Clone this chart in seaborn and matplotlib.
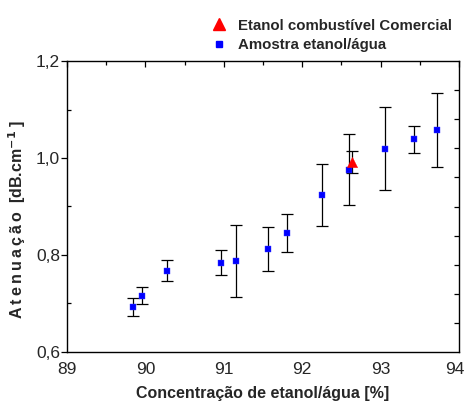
import matplotlib
matplotlib.use("Agg")
import matplotlib.pyplot as plt
import matplotlib.transforms as mtransforms
import seaborn as sns
import numpy as np
import pandas as pd
from matplotlib.ticker import MultipleLocator, FuncFormatter
from matplotlib.lines import Line2D

# Data
conc_amostra = [89.84, 89.96, 90.27, 90.96, 91.16, 91.56, 91.80, 92.25, 92.60, 93.05, 93.43, 93.72]
aten_amostra = [0.693, 0.716, 0.768, 0.784, 0.787, 0.813, 0.845, 0.924, 0.976, 1.019, 1.039, 1.058]
err_amostra = [0.018, 0.017, 0.022, 0.026, 0.074, 0.045, 0.039, 0.064, 0.073, 0.086, 0.028, 0.077]

conc_comercial = [92.64]
aten_comercial = [0.992]
err_comercial = [0.023]

sns.set_style("white")
plt.rcParams['font.family'] = ['Liberation Sans', 'DejaVu Sans']

fig = plt.figure(figsize=(4.67, 4.05), dpi=100)
ax = fig.add_axes([67/467, 1-352/405, (459-67)/467, (352-61)/405])

df_a = pd.DataFrame({"conc": conc_amostra, "aten": aten_amostra})
df_c = pd.DataFrame({"conc": conc_comercial, "aten": aten_comercial})

ax.errorbar(conc_amostra, aten_amostra, yerr=err_amostra, fmt='none', ecolor='black',
            elinewidth=0.9, capsize=4.2, capthick=0.9, zorder=2)
ax.errorbar(conc_comercial, aten_comercial, yerr=err_comercial, fmt='none', ecolor='black',
            elinewidth=0.9, capsize=4.2, capthick=0.9, zorder=2)
sns.scatterplot(data=df_a, x="conc", y="aten", ax=ax, marker='s', color='#0000ff',
                s=22, edgecolor='#3a3aff', linewidth=0.3, zorder=3)
sns.scatterplot(data=df_c, x="conc", y="aten", ax=ax, marker='^', color='#ff0000',
                s=55, edgecolor='#ff0000', linewidth=0.3, zorder=4)

ax.set_xlim(89, 94)
ax.set_ylim(0.6, 1.2)
ax.xaxis.set_major_locator(MultipleLocator(1))
ax.xaxis.set_minor_locator(MultipleLocator(0.5))
ax.yaxis.set_major_locator(MultipleLocator(0.2))
ax.yaxis.set_minor_locator(MultipleLocator(0.1))
ax.yaxis.set_major_formatter(FuncFormatter(lambda v, p: f"{v:.1f}".replace('.', ',')))
ax.xaxis.set_major_formatter(FuncFormatter(lambda v, p: f"{v:.0f}"))

for s in ax.spines.values():
    s.set_color('black')
    s.set_linewidth(1.0)

ax.tick_params(axis='x', which='major', direction='in', length=4, width=0.9, top=True,
               labelsize=12.5, pad=7, color='black')
ax.tick_params(axis='x', which='minor', direction='in', length=3, width=0.9, top=True, color='black')
ax.tick_params(axis='y', which='major', direction='out', length=4, width=0.9, left=True,
               right=False, labelsize=12.5, pad=1, color='black')
ax.tick_params(axis='y', which='minor', direction='in', length=3, width=0.9, left=True,
               right=False, color='black')

# right spine ticks (secondary scale)
ax2 = ax.twinx()
ax2.set_ylim(0.6, 1.2)
ax2.set_yticks(np.arange(0.66, 1.19, 0.06))
ax2.tick_params(axis='y', direction='in', length=3.5, width=0.9, labelright=False, color='black')
for s in ax2.spines.values():
    s.set_visible(False)

ax.set_xlabel("Concentração de etanol/água [%]", fontsize=11.5, fontweight='bold')
ax.xaxis.set_label_coords(0.5, -0.118)
ts = "\u2009"
ylab = ts.join("Atenuação") + "  [dB.cm$^{\\mathbf{-1}}$ ]"
ax.set_ylabel(ylab, fontsize=11.5, fontweight='bold')
ax.yaxis.set_label_coords(-0.10, 0.457)

handles = [
    Line2D([], [], marker='^', color='#ff0000', linestyle='none', markersize=8),
    Line2D([], [], marker='s', color='#0000ff', linestyle='none', markersize=4),
]
labels = ["Etanol combustível Comercial", "Amostra etanol/água"]
fig.legend(handles, labels, loc='upper left', bbox_to_anchor=(198/467, 1-8/405),
           frameon=False, prop={'weight': 'bold', 'size': 10.8}, handletextpad=0.6,
           labelspacing=0.4, handlelength=1.4, borderpad=0.2)

# nudge the rightmost x tick label ("94") left so it stays inside the figure
fig.canvas.draw()
for lab in ax.get_xticklabels():
    if lab.get_text() == "94":
        lab.set_transform(lab.get_transform() +
                          mtransforms.ScaledTranslation(-4.5/100, 0, fig.dpi_scale_trans))

fig.savefig("out.png", dpi=100)
